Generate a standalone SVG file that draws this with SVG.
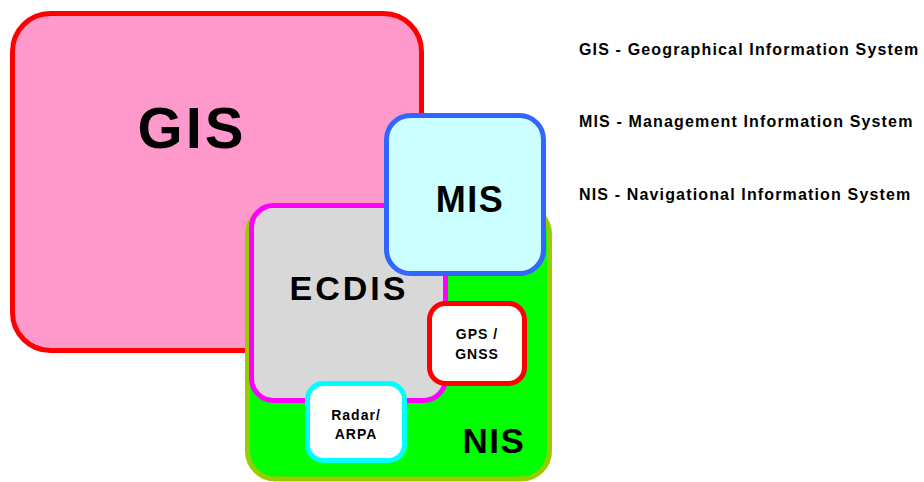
<svg xmlns="http://www.w3.org/2000/svg" width="924" height="482" viewBox="0 0 924 482">
  <style>
    text { font-family: "Liberation Sans", Arial, sans-serif; font-weight: bold; fill: #000; }
    .box { stroke-width: 5; }
    .big { text-anchor: middle; }
    .small { text-anchor: middle; font-size: 14px; letter-spacing: 1px; }
    .legend { font-size: 16px; letter-spacing: 1.15px; }
  </style>
  <rect width="924" height="482" fill="#ffffff"/>

  <!-- Geographical Information System -->
  <g id="gis">
    <rect class="box" x="12.5" y="13.5" width="409" height="337" rx="38" fill="#ff99cc" stroke="#ff0000"/>
    <text class="big" x="192" y="148" font-size="58" letter-spacing="3">GIS</text>
  </g>

  <!-- Navigational Information System -->
  <g id="nis">
    <rect class="box" x="247.5" y="206" width="302" height="273" rx="28" fill="#00ff00" stroke="#99cc00"/>
    <text class="big" x="494" y="453" font-size="35" letter-spacing="1.5">NIS</text>
  </g>

  <!-- ECDIS -->
  <g id="ecdis">
    <rect class="box" x="251.5" y="205.5" width="194" height="195" rx="22" fill="#d8d8d8" stroke="#ff00ff"/>
    <text class="big" x="349" y="300" font-size="34" letter-spacing="3">ECDIS</text>
  </g>

  <!-- Management Information System -->
  <g id="mis">
    <rect class="box" x="386.5" y="115.5" width="157" height="158" rx="24" fill="#ccffff" stroke="#3366ff"/>
    <text class="big" x="470" y="212" font-size="36" letter-spacing="1.5">MIS</text>
  </g>

  <!-- GPS / GNSS -->
  <g id="gps">
    <rect class="box" x="429.5" y="303.5" width="95" height="80" rx="16" fill="#ffffff" stroke="#ff0000"/>
    <text class="small" x="477" y="339">GPS /</text>
    <text class="small" x="477" y="359">GNSS</text>
  </g>

  <!-- Radar / ARPA -->
  <g id="radar">
    <rect class="box" x="307.5" y="383.5" width="97" height="77" rx="16" fill="#ffffff" stroke="#00ffff"/>
    <text class="small" x="356" y="420">Radar/</text>
    <text class="small" x="356" y="439">ARPA</text>
  </g>

  <!-- no connectors in this diagram -->
  <g id="connectors"/>

  <!-- Legend -->
  <g id="legend">
    <text class="legend" x="579" y="55">GIS - Geographical Information System</text>
    <text class="legend" x="579" y="127">MIS - Management Information System</text>
    <text class="legend" x="579" y="200">NIS - Navigational Information System</text>
  </g>
</svg>
